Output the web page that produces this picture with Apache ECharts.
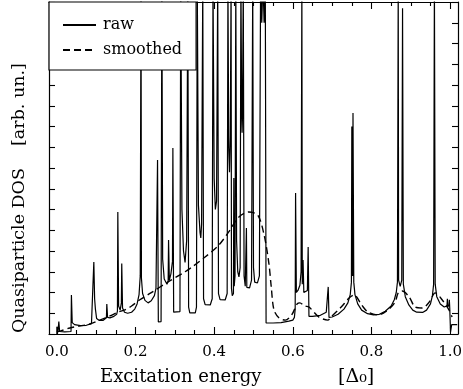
<!DOCTYPE html>
<html>
<head>
<meta charset="utf-8">
<script src="https://cdn.jsdelivr.net/npm/echarts@6/dist/echarts.min.js"></script>
<style>
  html, body { margin: 0; padding: 0; background: #fff; }
  #chart { width: 463px; height: 389px; }
</style>
</head>
<body>
<div id="chart"></div>
<script>
// Quasiparticle density of states: raw spectrum (solid) and its smoothed version (dashed).
// Energies in units of the gap Delta_0; DOS in arbitrary units (17 = runs off the top).
const rawEnergy = [
  0.000, 0.000, 0.003, 0.005, 0.007, 0.020, 0.036, 0.037, 0.039, 0.045,
  0.060, 0.075, 0.088, 0.093, 0.094, 0.096, 0.098, 0.101, 0.108, 0.118,
  0.126, 0.127, 0.129, 0.135, 0.145, 0.152, 0.154, 0.155, 0.157, 0.161,
  0.164, 0.165, 0.167, 0.172, 0.180, 0.190, 0.198, 0.204, 0.209, 0.212,
  0.214, 0.215, 0.218, 0.224, 0.232, 0.240, 0.248, 0.252, 0.256, 0.258,
  0.265, 0.267, 0.269, 0.273, 0.280, 0.283, 0.284, 0.286, 0.290, 0.294,
  0.295, 0.297, 0.313, 0.315, 0.318, 0.322, 0.326, 0.330, 0.333, 0.335,
  0.338, 0.352, 0.355, 0.357, 0.360, 0.364, 0.366, 0.368, 0.371, 0.373,
  0.377, 0.390, 0.395, 0.397, 0.400, 0.403, 0.406, 0.409, 0.411, 0.415,
  0.428, 0.433, 0.435, 0.437, 0.439, 0.441, 0.443, 0.444, 0.446, 0.449,
  0.450, 0.451, 0.453, 0.455, 0.457, 0.460, 0.463, 0.466, 0.468, 0.470,
  0.471, 0.472, 0.474, 0.476, 0.479, 0.481, 0.482, 0.483, 0.490, 0.495,
  0.498, 0.500, 0.503, 0.510, 0.515, 0.518, 0.521, 0.524, 0.527, 0.530,
  0.532, 0.550, 0.570, 0.590, 0.600, 0.604, 0.606, 0.607, 0.609, 0.613,
  0.618, 0.621, 0.623, 0.624, 0.626, 0.628, 0.633, 0.637, 0.639, 0.641,
  0.650, 0.670, 0.685, 0.689, 0.690, 0.692, 0.700, 0.715, 0.730, 0.740,
  0.746, 0.749, 0.750, 0.752, 0.753, 0.755, 0.758, 0.765, 0.775, 0.790,
  0.805, 0.820, 0.835, 0.850, 0.858, 0.863, 0.866, 0.868, 0.869, 0.873,
  0.877, 0.879, 0.881, 0.886, 0.895, 0.905, 0.915, 0.930, 0.940, 0.950,
  0.955, 0.958, 0.960, 0.962, 0.966, 0.975, 0.985, 0.992, 0.993, 0.994,
  0.997, 0.998, 0.999, 1.001, 1.004, 1.004, 1.018
];
const rawDos = [
  0.00, 0.35, 0.15, 0.60, 0.12, 0.10, 0.12, 1.88, 0.55, 0.45,
  0.40, 0.42, 0.50, 0.58, 3.47, 1.70, 1.20, 0.75, 0.65, 0.66,
  0.78, 1.45, 0.80, 0.78, 0.85, 0.95, 1.10, 5.88, 1.35, 1.15,
  1.50, 3.40, 1.25, 1.05, 1.00, 1.05, 1.20, 1.45, 1.90, 2.80,
  17, 2.70, 1.95, 1.62, 1.50, 1.60, 1.85, 2.20, 8.39, 0.58,
  0.60, 17, 3.60, 2.65, 2.40, 2.55, 4.53, 2.60, 2.90, 3.50,
  8.96, 1.05, 1.08, 17, 6.00, 4.00, 3.45, 4.50, 17, 1.30,
  1.02, 1.02, 1.30, 17, 6.20, 4.90, 4.63, 5.30, 17, 1.70,
  1.42, 1.40, 1.70, 17, 7.50, 6.00, 6.40, 17, 1.95, 1.66,
  1.64, 1.95, 17, 9.00, 7.80, 9.50, 17, 2.20, 1.85, 1.95,
  7.52, 2.30, 2.80, 17, 4.50, 3.00, 2.75, 3.20, 17, 10.50,
  9.70, 10.50, 17, 2.80, 2.30, 2.25, 5.11, 2.25, 2.22, 2.60,
  17, 3.20, 2.50, 2.46, 2.80, 17, 15.0, 17, 15.0, 17,
  0.53, 0.53, 0.55, 0.62, 0.67, 0.80, 1.20, 6.80, 2.00, 2.10,
  2.35, 3.00, 17, 2.40, 3.57, 2.00, 1.95, 2.10, 4.19, 0.85,
  0.85, 0.90, 1.05, 1.10, 2.27, 0.80, 0.82, 0.95, 1.20, 1.50,
  1.90, 2.50, 10.00, 2.80, 10.65, 2.50, 1.90, 1.45, 1.15, 0.98,
  0.92, 0.95, 1.10, 1.35, 1.65, 2.00, 2.50, 17, 2.60, 2.30,
  2.60, 15.70, 2.40, 1.80, 1.40, 1.15, 1.05, 1.04, 1.15, 1.45,
  1.85, 2.40, 17, 2.40, 1.80, 1.45, 1.30, 1.35, 1.70, 1.30,
  1.40, 1.65, 1.25, 0.10, 0.10, 0.45, 0.45
];

const smoothEnergy = [
  0.000, 0.010, 0.033, 0.059, 0.084, 0.109, 0.135, 0.155, 0.173, 0.190,
  0.211, 0.239, 0.282, 0.326, 0.344, 0.377, 0.412, 0.437, 0.463, 0.488,
  0.511, 0.527, 0.539, 0.545, 0.552, 0.565, 0.581, 0.598, 0.611, 0.618,
  0.630, 0.641, 0.666, 0.689, 0.697, 0.723, 0.743, 0.756, 0.775, 0.791,
  0.817, 0.842, 0.860, 0.868, 0.878, 0.896, 0.911, 0.929, 0.947, 0.962,
  0.980, 0.997, 1.005
];
const smoothDos = [
  0.10, 0.15, 0.29, 0.39, 0.48, 0.67, 0.87, 1.05, 1.16, 1.35,
  1.65, 1.98, 2.50, 3.00, 3.23, 3.71, 4.29, 4.92, 5.64, 5.88,
  5.73, 4.77, 3.42, 2.30, 1.16, 0.77, 0.67, 0.95, 1.45, 1.50,
  1.35, 1.30, 0.82, 0.67, 0.82, 1.30, 1.73, 1.88, 1.40, 1.06,
  0.92, 1.16, 1.54, 1.98, 2.07, 1.78, 1.30, 1.25, 1.54, 1.98,
  1.64, 1.16, 0.82
];

const xMajorTicks = [0, 0.2, 0.4, 0.6, 0.8, 1.0];
const xMinorTicks = [0.05, 0.1, 0.15, 0.25, 0.3, 0.35, 0.45, 0.5, 0.55,
                     0.65, 0.7, 0.75, 0.85, 0.9, 0.95];
const seriesNames = ['raw', 'smoothed'];
const xTitle = 'Excitation energy';
const xUnit = '[Δ₀]';
const yTitle = 'Quasiparticle DOS';
const yUnit = '[arb. un.]';

const SERIF = '"DejaVu Serif", "Liberation Serif", serif';
const INK = '#000';

function pairs(xs, ys) {
  return xs.map((x, i) => [x, ys[i]]);
}

function xAxisDef(position, ticks, len, showLine, showLabel) {
  return {
    type: 'value',
    position: position,
    min: -0.02,
    max: 1.02,
    axisLine: { show: showLine, onZero: false, lineStyle: { color: INK, width: 1.2 } },
    axisTick: { show: true, inside: true, length: len, customValues: ticks,
                lineStyle: { color: INK, width: 1.1 } },
    axisLabel: showLabel ? {
      show: true, customValues: ticks, margin: 11,
      formatter: v => v.toFixed(1),
      fontFamily: SERIF, fontSize: 15, color: INK
    } : { show: false },
    splitLine: { show: false }
  };
}

function yAxisDef(position) {
  return {
    type: 'value',
    position: position,
    min: 0,
    max: 16,
    interval: 1,
    axisLine: { show: true, onZero: false, lineStyle: { color: INK, width: 1.2 } },
    axisTick: { show: true, inside: true, length: 6, lineStyle: { color: INK, width: 1.1 } },
    axisLabel: { show: false },
    splitLine: { show: false }
  };
}

const chart = echarts.init(document.getElementById('chart'), null, { renderer: 'canvas' });
chart.setOption({
  animation: false,
  backgroundColor: '#fff',
  grid: { left: 49, right: 5, top: 2, bottom: 55, containLabel: false, outerBoundsMode: 'none' },
  xAxis: [
    xAxisDef('bottom', xMajorTicks, 7, true, true),
    xAxisDef('bottom', xMinorTicks, 4, false, false),
    xAxisDef('top', xMajorTicks, 7, true, false),
    xAxisDef('top', xMinorTicks, 4, false, false)
  ],
  yAxis: [yAxisDef('left'), yAxisDef('right')],
  legend: {
    orient: 'vertical',
    left: 49,
    top: 2,
    backgroundColor: '#fff',
    borderColor: INK,
    borderWidth: 1.2,
    padding: [15, 14, 12, 13],
    itemWidth: 33,
    itemHeight: 14,
    itemGap: 9,
    itemStyle: { opacity: 0 },
    textStyle: { fontFamily: SERIF, fontSize: 16, color: INK, padding: [0, 0, 0, 2] },
    data: seriesNames
  },
  series: [
    {
      name: seriesNames[0],
      type: 'line',
      xAxisIndex: 0,
      yAxisIndex: 0,
      data: pairs(rawEnergy, rawDos),
      showSymbol: false,
      symbol: 'none',
      clip: true,
      lineStyle: { color: INK, width: 1.2 },
      itemStyle: { color: INK }
    },
    {
      name: seriesNames[1],
      type: 'line',
      xAxisIndex: 0,
      yAxisIndex: 0,
      data: pairs(smoothEnergy, smoothDos),
      smooth: 0.3,
      showSymbol: false,
      symbol: 'none',
      clip: true,
      lineStyle: { color: INK, width: 1.4, type: [7, 4] },
      itemStyle: { color: INK }
    }
  ],
  graphic: [
    { type: 'text', x: 100, y: 377,
      style: { text: xTitle, font: '18px ' + SERIF, fill: INK, align: 'left', verticalAlign: 'middle' } },
    { type: 'text', x: 338, y: 377,
      style: { text: xUnit, font: '19px ' + SERIF, fill: INK, align: 'left', verticalAlign: 'middle' } },
    { type: 'text', x: 19, y: 333, rotation: Math.PI / 2,
      style: { text: yTitle, font: '17.5px ' + SERIF, fill: INK, align: 'left', verticalAlign: 'middle' } },
    { type: 'text', x: 19, y: 146, rotation: Math.PI / 2,
      style: { text: yUnit, font: '17.5px ' + SERIF, fill: INK, align: 'left', verticalAlign: 'middle' } }
  ]
});
</script>
</body>
</html>
